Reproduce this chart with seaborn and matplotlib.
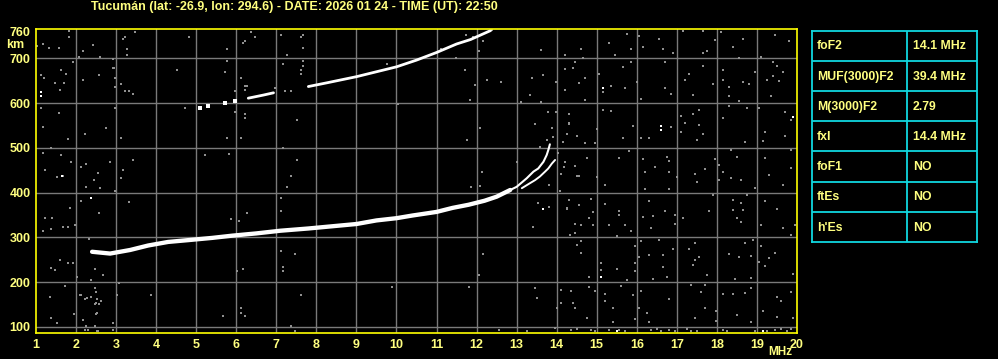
import matplotlib
matplotlib.use("Agg")
import matplotlib.pyplot as plt
import pandas as pd
import seaborn as sns

# ---------------- data ----------------
station_title = "Tucumán (lat: -26.9, lon: 294.6) - DATE: 2026 01 24 - TIME (UT): 22:50"
x_ticks = list(range(1, 21))
y_ticks = [100, 200, 300, 400, 500, 600, 700, 760]
grid_x = list(range(2, 20))
grid_y = [100, 200, 300, 400, 500, 600, 700]

# F2 ordinary trace (MHz, km)
o_freq = [2.40, 2.85, 3.35, 3.80, 4.30, 4.80, 5.40, 5.90, 6.50, 7.10, 7.80, 8.40, 9.00, 9.50,
          10.0, 10.4, 11.0, 11.4, 11.8, 12.2, 12.5, 12.84, 13.0, 13.25, 13.42, 13.54, 13.67,
          13.75, 13.79, 13.83]
o_height = [268, 264, 272, 282, 290, 294, 299, 304, 309, 315, 320, 325, 330, 338,
            343, 349, 357, 366, 373, 382, 391, 406, 413, 432, 447, 454, 469,
            484, 495, 508]
# F2 extraordinary trace
x_freq = [13.13, 13.33, 13.46, 13.58, 13.71, 13.79, 13.88, 13.96]
x_height = [410, 421, 428, 436, 447, 454, 465, 473]
# second-hop F2 trace (piece 0 = sparse specks, pieces 1/2 = solid)
hop2_freq = [5.10, 5.30, 5.72, 5.97, 6.30, 6.68, 6.93, 7.80, 8.30, 9.00, 9.50, 10.0, 10.5,
             11.0, 11.5, 11.85, 12.1, 12.35]
hop2_height = [588, 593, 600, 605, 611, 618, 623, 637, 646, 659, 670, 681, 696,
               713, 732, 742, 752, 762]
hop2_piece = [0, 0, 0, 0, 1, 1, 1, 2, 2, 2, 2, 2, 2, 2, 2, 2, 2, 2]

# background noise specks (MHz, km)
noise_freq = [
    # 14-20 MHz, upper part
    15.75, 16.05, 16.55, 17.16, 17.65, 17.95, 18.10, 18.40, 18.65, 19.45, 19.80, 14.60, 14.20,
    14.65, 15.30, 15.45, 15.85, 16.15, 16.65, 16.90, 17.65, 17.75, 18.55, 19.10, 19.40, 19.50,
    19.65, 19.40, 19.55, 19.25, 19.35, 14.20, 14.45, 14.40, 14.70, 14.55, 14.20, 14.70, 15.05,
    15.35, 15.15, 15.70, 15.65, 15.85, 16.70, 16.00, 16.10, 16.70, 16.85, 17.20, 17.30, 17.40,
    17.65, 17.90, 18.15, 18.15, 18.30, 18.30, 18.65, 18.80, 18.95, 18.55, 18.30, 18.75, 19.05,
    18.15, 17.55, 17.40, 17.10, 17.20, 17.55, 17.65, 17.50, 17.10, 16.85, 16.10, 16.30, 15.90,
    15.65, 15.35, 15.15, 15.00, 14.70, 14.95, 14.50, 14.25, 14.30, 14.30, 19.70, 19.85, 19.70,
    19.20, 19.15, 18.70, 15.80, 15.55, 16.15, 14.75, 14.20, 14.45, 16.75, 16.80, 16.45, 16.20,
    16.80, 17.00, 17.45, 17.70, 17.95, 18.05, 18.15, 18.35, 18.50, 19.20, 19.85, 19.85, 19.30,
    14.55, 15.00,
    # 14-20 MHz, lower part
    15.2, 16.2, 16.8, 17.5, 18.05, 18.35, 18.6, 18.95, 19.65, 14.3, 14.25, 14.55, 14.85, 14.9,
    14.9, 14.6, 14.8, 15.2, 15.55, 15.55, 15.3, 15.7, 15.85, 15.5, 16.3, 16.15, 16.4, 16.35,
    16.7, 16.95, 16.95, 17.15, 16.55, 17.8, 17.9, 18.4, 18.4, 18.6, 18.65, 18.5, 18.6, 18.75,
    19.2, 19.5, 19.65, 19.1, 19.95, 19.85, 14.45, 14.5, 14.6, 14.6, 15.1, 15.1, 14.8, 15.5,
    15.75, 15.95, 15.95, 15.95, 16.1, 16.05, 16.3, 16.4, 16.65, 16.65, 16.75, 16.9, 17.3,
    17.45, 17.55, 17.4, 17.45, 17.75, 18.3, 18.55, 18.7, 18.9, 18.85, 18.45, 18.85, 19.05,
    19.2, 19.1, 19.45, 19.3, 19.9, 14.1, 14.35, 14.95, 14.8, 15.2, 15.2, 15.4, 15.9, 15.6,
    16.1, 16.05, 16.25, 16.3, 16.8, 17.35, 17.6, 17.7, 17.7, 17.45, 17.98, 17.98, 18.15, 18.4,
    18.5, 18.7, 18.85, 18.85, 19.15, 19.5, 19.6, 19.5, 19.85, 19.9, 14.4, 14.75, 14.1, 14.45,
    15.4, 15.95,
    # bottom row specks
    14.35, 14.5, 14.85, 14.95, 15.3, 15.55, 15.7, 16.35, 16.5, 16.6, 16.8, 16.95, 17.25, 17.35,
    17.5, 18.15, 18.25, 18.95, 19.25, 19.45, 19.6, 19.75, 19.85,
    # 2.8-11 MHz upper part
    3.46, 3.21, 3.16, 3.26, 3.26, 4.81, 5.76, 6.36, 6.46, 6.21, 6.16, 7.11, 7.61, 7.66, 7.66,
    7.26, 2.91, 2.91, 2.96, 2.96, 3.11, 3.21, 3.31, 3.41, 4.51, 5.76, 5.71, 6.11, 6.21, 6.26,
    6.21, 5.96, 7.16, 7.66, 7.66, 7.61, 7.61, 6.96, 7.21, 7.36, 9.76, 2.96, 4.71, 5.96, 6.21,
    6.21, 10.05, 7.51, 3.11, 5.76, 6.11, 7.16, 3.41, 2.86, 3.16, 3.11, 5.21, 5.81, 7.51, 7.36,
    7.26, 2.96, 3.31, 7.11, 7.11, 6.26, 5.86, 6.06,
    # 11-14.5 MHz
    11.9, 12.07, 12.15, 11.71, 12.25, 12.6, 11.96, 11.1, 13.6, 13.98, 14.3, 14.3, 13.46, 11.75,
    13.92, 14.25, 14.5, 14.17, 13.58, 13.75, 14.04, 14.21, 14.18, 14.1, 14.5, 12.13, 13.0,
    11.86, 12.09, 13.8, 14.08, 14.3, 13.54, 13.82, 14.25, 13.4, 14.45, 14.33, 11.74, 12.39,
    13.6, 13.66, 13.38, 13.33, 13.98, 11.49, 11.84, 12.09, 13.11, 13.78, 13.88,
    # 2-14 MHz lower part
    2.32, 7.11, 7.46, 6.16, 6.01, 7.16, 7.16, 12.17, 12.05, 13.4, 2.47, 2.67, 2.37, 3.07, 2.47,
    3.02, 3.86, 2.12, 2.22, 2.37, 2.52, 2.47, 2.62, 2.57, 2.52, 2.17, 2.47, 2.92, 2.22, 2.52,
    2.92, 7.61, 9.9, 11.8, 13.45, 13.5, 14.0, 6.13, 6.13, 6.21, 5.66, 7.36, 7.46, 12.55, 13.25,
    13.95,
    # 1-3 MHz
    1.82, 1.82, 1.17, 1.02, 1.33, 1.57, 2.42, 2.17, 2.07, 2.61, 1.92, 2.95, 1.62, 1.75, 1.12,
    1.20, 1.47, 1.60, 1.71, 2.58, 2.17, 2.97, 1.12, 1.17, 1.57, 2.76, 2.22, 1.81, 1.18, 1.37,
    2.26, 1.87, 2.86, 1.62, 1.22, 1.52, 1.67, 2.54, 2.12, 2.46, 2.25, 2.60, 2.37, 2.12, 1.23,
    1.39, 1.85, 2.57, 1.97, 1.81, 1.67, 1.37, 1.17, 1.60, 1.37, 1.47, 1.79, 1.92, 2.03, 1.73,
    2.10, 2.51, 1.35, 2.28, 2.51, 1.95, 2.51, 1.37, 1.52, 2.24, 2.47, 2.31, 2.54,
]
noise_height = [
    755, 750, 743, 761, 761, 741, 759, 726, 743, 752, 739, 720, 707,
    701, 735, 707, 720, 726, 720, 713, 711, 717, 701, 703, 692, 683,
    670, 661, 649, 651, 616, 677, 692, 679, 656, 644, 629, 607, 666,
    638, 625, 634, 681, 692, 692, 648, 610, 634, 621, 651, 665, 618,
    683, 642, 674, 651, 636, 616, 648, 642, 670, 604, 593, 589, 589,
    567, 584, 575, 571, 555, 551, 531, 517, 536, 547, 521, 521, 549,
    521, 582, 584, 542, 510, 510, 526, 531, 575, 553, 581, 562, 527,
    536, 515, 514, 493, 478, 476, 478, 469, 460, 480, 470, 458, 447,
    447, 436, 441, 452, 476, 461, 447, 495, 480, 478, 495, 456, 439,
    437, 435,
    417, 408, 408, 423, 428, 432, 428, 411, 417, 384, 365, 372, 386, 356,
    328, 328, 343, 374, 359, 350, 328, 328, 314, 304, 381, 346, 349, 322,
    359, 350, 331, 343, 294, 359, 395, 384, 361, 376, 361, 343, 335, 395,
    381, 364, 322, 328, 328, 305, 309, 283, 292, 265, 244, 227, 212, 230,
    205, 282, 242, 224, 292, 257, 261, 207, 261, 235, 212, 274, 274,
    287, 257, 238, 250, 216, 262, 257, 287, 294, 259, 207, 210, 246,
    237, 282, 265, 253, 218, 183, 180, 180, 190, 173, 157, 143, 172, 192,
    180, 143, 131, 112, 163, 194, 179, 194, 143, 120, 136, 114, 173, 173,
    127, 177, 186, 112, 136, 168, 157, 123, 179, 121, 153, 121, 153, 143,
    112, 118,
    93, 95, 94, 91, 93, 93, 91, 93, 95, 90, 93, 91, 96, 91,
    90, 93, 90, 91, 91, 93, 95, 91, 95,
    758, 748, 743, 721, 707, 748, 721, 758, 748, 739, 735, 752, 748, 752, 724,
    707, 698, 679, 657, 636, 643, 626, 626, 621, 675, 693, 670, 657, 639, 639,
    630, 626, 688, 693, 683, 675, 666, 634, 627, 626, 687, 588, 590, 581, 576,
    567, 598, 563, 523, 523, 523, 499, 474, 469, 451, 433, 483, 487, 474, 438,
    413, 404, 380, 387, 360, 355, 341, 337,
    748, 717, 739, 674, 652, 647, 640, 720, 603, 581, 576, 555, 553, 518,
    525, 532, 527, 513, 503, 518, 488, 469, 458, 442, 437, 447, 469,
    412, 415, 417, 404, 384, 378, 369, 364, 324, 331, 306, 752, 763,
    718, 662, 656, 618, 647, 700, 607, 544, 602, 580, 544,
    297, 270, 263, 230, 226, 234, 224, 262, 217, 324, 230, 217, 204, 199, 186,
    172, 172, 172, 163, 168, 163, 152, 157, 152, 131, 116, 103, 108, 94, 90,
    94, 172, 190, 190, 186, 165, 143, 143, 131, 125, 125, 103, 90, 94, 91,
    97,
    762, 748, 733, 728, 722, 722, 730, 716, 704, 704, 692, 679, 674, 666, 663,
    655, 644, 629, 644, 663, 652, 637, 588, 547, 577, 545, 531, 519, 488, 500,
    464, 469, 469, 483, 451, 436, 438, 443, 458, 428, 413, 410, 387, 381, 343,
    343, 365, 355, 328, 324, 324, 318, 315, 250, 231, 227, 244, 244, 212, 192,
    171, 179, 168, 164, 153, 130, 130, 119, 108, 103, 103, 93, 90,
]
# isolated bright specks
white_freq = [1.12, 1.12, 15.15, 16.60, 16.60, 19.90, 15.10, 15.50, 19.15, 1.65, 2.37, 13.67]
white_height = [615, 625, 634, 548, 541, 570, 212, 90, 91, 438, 387, 363]

# ionospheric parameter table
param_names = ["foF2", "MUF(3000)F2", "M(3000)F2", "fxI", "foF1", "ftEs", "h'Es"]
param_values = ["14.1 MHz", "39.4 MHz", "2.79", "14.4 MHz", "NO", "NO", "NO"]

# ---------------- styling ----------------
sns.set_style("dark", {"axes.facecolor": "black", "figure.facecolor": "black",
                       "axes.grid": False})
plt.rcParams["font.family"] = ["Liberation Sans", "DejaVu Sans"]
plt.rcParams["font.weight"] = "bold"

TXT = "#ffff80"
BORDER = "#ffff00"
GRID = "#7a7a7a"
CYAN = "#10d8e0"

fig = plt.figure(figsize=(9.98, 3.59), dpi=100, facecolor="black")
ax = fig.add_axes([36 / 998, 26 / 359, 761 / 998, 304 / 359])
ax.set_facecolor("black")

for gx in grid_x:
    ax.axvline(gx, color=GRID, lw=1.0, zorder=1)
for gy in grid_y:
    ax.axhline(gy, color=GRID, lw=1.0, zorder=1)

noise_df = pd.DataFrame({"f": noise_freq, "h": noise_height})
sns.scatterplot(data=noise_df, x="f", y="h", marker="s", s=3.6, color="#909090",
                linewidth=0, ax=ax, zorder=2)
white_df = pd.DataFrame({"f": white_freq, "h": white_height})
sns.scatterplot(data=white_df, x="f", y="h", marker="s", s=3.6, color="white",
                linewidth=0, ax=ax, zorder=3)

o_df = pd.DataFrame({"f": o_freq, "h": o_height})
thick = o_df[o_df["f"] <= 12.84]
thin = o_df[o_df["f"] >= 12.84]
sns.lineplot(data=thick, x="f", y="h", color="white", lw=3.1, sort=False,
             estimator=None, ax=ax, zorder=4)
sns.lineplot(data=thin, x="f", y="h", color="white", lw=1.5, sort=False,
             estimator=None, ax=ax, zorder=4)
x_df = pd.DataFrame({"f": x_freq, "h": x_height})
sns.lineplot(data=x_df, x="f", y="h", color="white", lw=1.4, sort=False,
             estimator=None, ax=ax, zorder=4)

hop_df = pd.DataFrame({"f": hop2_freq, "h": hop2_height, "piece": hop2_piece})
specks = hop_df[hop_df["piece"] == 0]
sns.scatterplot(data=specks, x="f", y="h", marker="s", s=5, color="white",
                linewidth=0, ax=ax, zorder=4)
solid = hop_df[hop_df["piece"] > 0]
sns.lineplot(data=solid, x="f", y="h", units="piece", color="white", lw=2.0,
             sort=False, estimator=None, ax=ax, zorder=4)

ax.set_xlim(1, 20)
ax.set_ylim(86.6, 765.5)
ax.set_xticks(x_ticks)
ax.set_yticks(y_ticks)
ax.set_xticklabels([str(v) for v in x_ticks])
ax.set_yticklabels([str(v) for v in y_ticks])
ax.tick_params(length=0, colors=TXT, labelsize=9, pad=4)
for lbl in ax.get_xticklabels() + ax.get_yticklabels():
    lbl.set_fontweight("bold")
ax.set_xlabel("")
ax.set_ylabel("")
if ax.get_legend():
    ax.get_legend().remove()
for sp in ax.spines.values():
    sp.set_visible(True)
    sp.set_color(BORDER)
    sp.set_linewidth(1.2)
    sp.set_zorder(6)

fig.text(91 / 998, 1 - 7 / 359, station_title, color=TXT, fontsize=9,
         fontweight="bold", ha="left", va="center")
fig.text(6 / 998, 1 - 45 / 359, "km", color=TXT, fontsize=9,
         fontweight="bold", ha="left", va="center")
fig.text(780 / 998, 1 - 352 / 359, "MHz", color=TXT, fontsize=8.5,
         fontweight="bold", ha="center", va="center")

# parameter table
tab = fig.add_axes([812 / 998, (359 - 242) / 359, 165 / 998, 211.3 / 359])
tab.set_facecolor("black")
tab.set_xlim(0, 1)
tab.set_ylim(len(param_names), 0)
tab.set_xticks([])
tab.set_yticks([])
for sp in tab.spines.values():
    sp.set_visible(True)
    sp.set_color(CYAN)
    sp.set_linewidth(1.3)
for i in range(1, len(param_names)):
    tab.axhline(i, color=CYAN, lw=1.3)
tab.axvline(0.576, color=CYAN, lw=1.3)
for i, (n, v) in enumerate(zip(param_names, param_values)):
    tab.text(0.03, i + 0.52, n, color=TXT, fontsize=8.8, fontweight="bold",
             ha="left", va="center")
    tab.text(0.612, i + 0.52, v, color=TXT, fontsize=8.8, fontweight="bold",
             ha="left", va="center")

fig.savefig("out.png", dpi=100, facecolor="black")
